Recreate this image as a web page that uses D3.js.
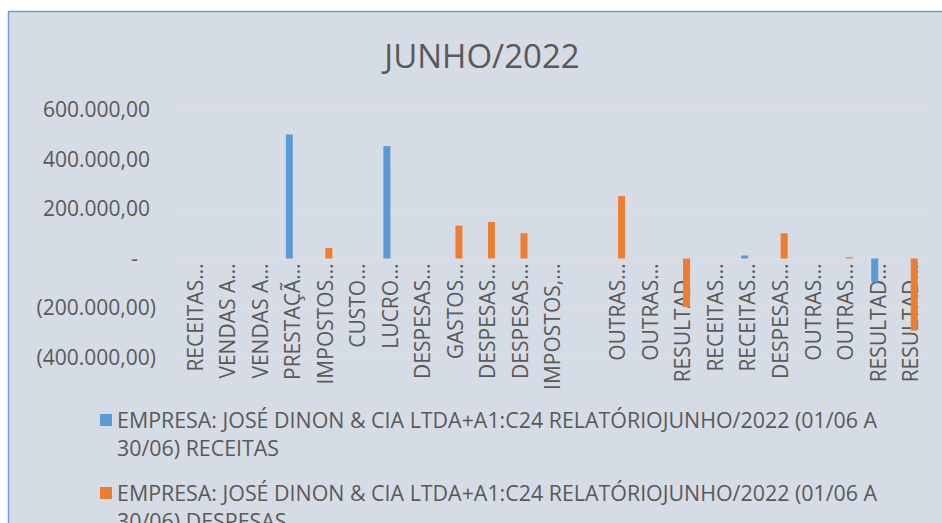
<!DOCTYPE html>
<html>
<head>
<meta charset="utf-8">
<script src="https://cdn.jsdelivr.net/npm/d3@7"></script>
<style>
  body { margin: 0; background: #fff; }
  text { font-family: "Open Sans", sans-serif; fill: #595959; }
</style>
</head>
<body>
<div id="chart"></div>
<script>
var categories = ["RECEITAS…", "VENDAS A…", "VENDAS A…", "PRESTAÇÃ…", "IMPOSTOS…", "CUSTO…",
    "LUCRO…", "DESPESAS…", "GASTOS…", "DESPESAS…", "DESPESAS…", "IMPOSTOS,…", "",
    "OUTRAS…", "OUTRAS…", "RESULTAD…", "RECEITAS…", "RECEITAS…", "DESPESAS…",
    "OUTRAS…", "OUTRAS…", "RESULTAD…", "RESULTAD…"];

var receitas = [0, 0, 0, 501000, 0, 0, 454000, 0, 0, 0, 0, 0, 0,
    0, 0, 0, 0, 12000, 0, 0, 0, -96000, 0];

var despesas = [0, 0, 0, 0, 43000, 0, 0, 0, 133000, 148000, 102000, 0, 0,
    252000, 0, -196000, 0, 0, 102000, 0, 5000, 0, -291000];

var seriesNames = [
  "EMPRESA: JOSÉ DINON & CIA LTDA+A1:C24 RELATÓRIOJUNHO/2022 (01/06 A 30/06) RECEITAS",
  "EMPRESA: JOSÉ DINON & CIA LTDA+A1:C24 RELATÓRIOJUNHO/2022 (01/06 A 30/06) DESPESAS"
];

var yTicks = [-400000, -200000, 0, 200000, 400000, 600000];

var colors = ["#5B9BD5", "#ED7D31"];

var W = 942, H = 523;
var margin = {top: 110, right: 15, bottom: 165.5, left: 179};
var width = W - margin.left - margin.right,
    height = H - margin.top - margin.bottom;

var num = d3.formatLocale({decimal: ",", thousands: ".", grouping: [3], currency: ["R$", ""]}).format(",.2f");
function fmt(v) {
  if (v === 0) return "-";
  return v < 0 ? "(" + num(-v) + ")" : num(v);
}

var x0 = d3.scaleBand()
    .domain(d3.range(categories.length))
    .range([0, width])
    .paddingInner(0.57)
    .paddingOuter(0.285);

var x1 = d3.scaleBand()
    .domain([0, 1])
    .range([0, x0.bandwidth()]);

var y = d3.scaleLinear()
    .domain([-400000, 600000])
    .range([height, 0]);

var svg = d3.select("#chart").append("svg")
    .attr("width", W)
    .attr("height", H);

// chart area
svg.append("rect")
    .attr("x", 8.5).attr("y", 11.5)
    .attr("width", 960).attr("height", 600)
    .attr("fill", "#D6DCE5")
    .attr("stroke", "#6A9FD8")
    .attr("stroke-width", 1.5);

svg.append("text")
    .attr("x", 482)
    .attr("y", 68)
    .attr("text-anchor", "middle")
    .style("font-size", "33px")
    .text("JUNHO/2022");

var g = svg.append("g")
    .attr("transform", "translate(" + margin.left + "," + margin.top + ")");

var yAxis = g.append("g")
    .attr("class", "axis axis-y")
    .call(d3.axisLeft(y).tickValues(yTicks).tickSizeInner(-width).tickSizeOuter(0).tickPadding(29).tickFormat(fmt));

yAxis.select(".domain").remove();
yAxis.selectAll("line").attr("stroke", "#E0DFDD").attr("stroke-width", 1);
yAxis.selectAll("text")
    .attr("fill", "#595959")
    .style("font-size", "21px")
    .style("font-family", "'Open Sans', sans-serif")
    .attr("dx", function(d) { return d < 0 ? 6 : (d === 0 ? -12 : 0); });

var xAxis = g.append("g")
    .attr("class", "axis axis-x")
    .attr("transform", "translate(0," + y(0) + ")")
    .call(d3.axisBottom(x0).tickSize(0).tickFormat(function(i) { return categories[i]; }));

xAxis.select(".domain").remove();
xAxis.selectAll("text")
    .attr("fill", "#595959")
    .style("font-size", "21px")
    .style("font-family", "'Open Sans', sans-serif")
    .attr("transform", "rotate(-90)")
    .attr("text-anchor", "end")
    .attr("x", -5)
    .attr("y", 0)
    .attr("dy", "0.35em");

var rows = categories.map(function(c, i) { return [receitas[i], despesas[i]]; });

var cat = g.selectAll(".cat")
    .data(rows)
  .enter().append("g")
    .attr("class", "cat")
    .attr("transform", function(d, i) { return "translate(" + x0(i) + ",0)"; });

cat.selectAll("rect")
    .data(function(d) { return d; })
  .enter().append("rect")
    .attr("x", function(d, j) { return x1(j); })
    .attr("width", x1.bandwidth())
    .attr("y", function(d) { return Math.min(y(d), y(0)); })
    .attr("height", function(d) { return Math.abs(y(d) - y(0)); })
    .attr("fill", function(d, j) { return colors[j]; });

// legend
var legend = svg.append("g").attr("class", "legend");
var lineH = 28;

seriesNames.forEach(function(name, k) {
  var top = 428 + k * 73;
  legend.append("rect")
      .attr("x", 100).attr("y", top - 14)
      .attr("width", 12).attr("height", 12)
      .attr("fill", colors[k]);
  var t = legend.append("text")
      .attr("x", 117)
      .attr("y", top)
      .style("font-size", "21.4px");
  // wrap words
  var words = name.split(" "), line = [];
  var tspan = t.append("tspan").attr("x", 117).attr("dy", 0);
  words.forEach(function(w) {
    line.push(w);
    tspan.text(line.join(" "));
    if (tspan.node().getComputedTextLength() > 790 && line.length > 1) {
      line.pop();
      tspan.text(line.join(" "));
      line = [w];
      tspan = t.append("tspan").attr("x", 117).attr("dy", lineH).text(w);
    }
  });
});
</script>
</body>
</html>
